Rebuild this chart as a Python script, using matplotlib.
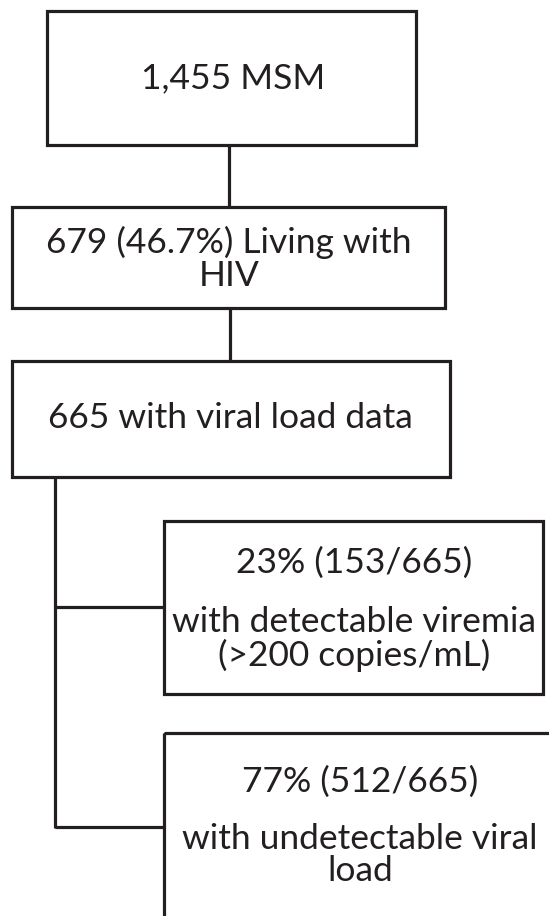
import matplotlib
matplotlib.use("Agg")
import matplotlib.pyplot as plt
from matplotlib.patches import Rectangle

# ---- data ----
total_msm = 1455
hiv_n = 679
hiv_pct = 46.7
vl_n = 665
detect_n = 153
undetect_n = 512
detect_pct = 23
undetect_pct = 77

labels = [
    f"{total_msm:,} MSM",
    f"{hiv_n} ({hiv_pct}%) Living with\nHIV",
    f"{vl_n} with viral load data",
]
detect_lines = [f"{detect_pct}% ({detect_n}/{vl_n})", "with detectable viremia\n(>200 copies/mL)"]
undetect_lines = [f"{undetect_pct}% ({undetect_n}/{vl_n})", "with undetectable viral\nload"]

# ---- layout (pixels) ----
W, H = 549, 916
fig = plt.figure(figsize=(W / 100, H / 100), dpi=100)
ax = fig.add_axes([0, 0, 1, 1])
ax.set_xlim(0, W)
ax.set_ylim(H, 0)
ax.axis("off")

col = "#231f20"
lw = 2.3
font = "Lato"

def box(x0, y0, x1, y1):
    ax.add_patch(Rectangle((x0, y0), x1 - x0, y1 - y0, fill=False,
                           edgecolor=col, linewidth=lw, joinstyle="miter"))

def line(xs, ys):
    ax.plot(xs, ys, color=col, linewidth=lw, solid_capstyle="butt")

# boxes
box(47, 11, 416, 145)
box(12, 207, 445, 308)
box(12, 361, 450, 477)
box(164, 521, 543, 694)
box(164, 733, 570, 960)

# connectors
line([229, 229], [145, 207])
line([230, 230], [308, 361])
line([55, 55], [477, 828])
line([55, 164], [607, 607])
line([55, 164], [827, 827])

# texts
fs = 25.5
ls = 1.03
ax.text(233, 78, labels[0], ha="center", va="center", fontsize=fs, family=font, color=col)
ax.text(229, 259, labels[1], ha="center", va="center", fontsize=fs, family=font, color=col,
        linespacing=ls)
ax.text(230, 418, labels[2], ha="center", va="center", fontsize=fs, family=font, color=col)

ax.text(354, 563, detect_lines[0], ha="center", va="center", fontsize=fs, family=font, color=col)
ax.text(354, 639, detect_lines[1], ha="center", va="center", fontsize=fs, family=font, color=col,
        linespacing=ls)

ax.text(360, 782, undetect_lines[0], ha="center", va="center", fontsize=fs, family=font, color=col)
ax.text(360, 855, undetect_lines[1], ha="center", va="center", fontsize=fs, family=font, color=col,
        linespacing=ls)

fig.savefig("out.png", dpi=100)
